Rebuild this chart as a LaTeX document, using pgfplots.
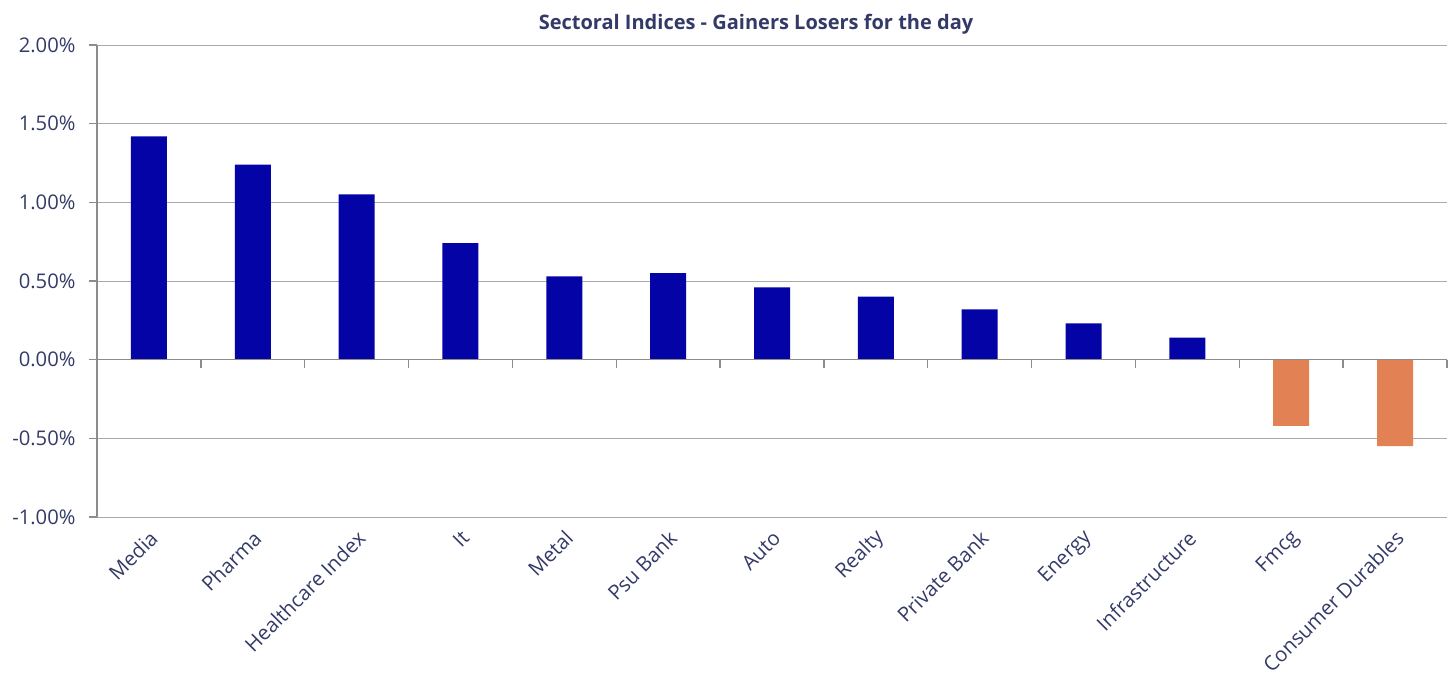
\documentclass[border=0pt]{standalone}
\usepackage{pgfplots}
\pgfplotsset{compat=1.18}
\usepackage{fontspec}
\setmainfont{Open Sans}
\definecolor{barblue}{RGB}{4,4,166}
\definecolor{barorange}{RGB}{226,130,84}
\definecolor{txt}{RGB}{52,58,104}
\definecolor{gridc}{RGB}{170,170,170}
\definecolor{axc}{RGB}{140,140,140}
\begin{document}
\begin{tikzpicture}
\begin{axis}[
  at={(0pt,0pt)}, anchor=south west,
  scale only axis, width=1350pt, height=472pt,
  xmin=-0.5, xmax=12.5, ymin=-1, ymax=2,
  axis x line*=bottom,
  axis y line*=left,
  x axis line style={draw=none},
  major x tick style={draw=none},
  y axis line style={draw=axc, line width=1.6pt},
  xtick={0,1,2,3,4,5,6,7,8,9,10,11,12},
  xticklabels={Media,Pharma,Healthcare Index,It,Metal,Psu Bank,Auto,Realty,Private Bank,Energy,Infrastructure,Fmcg,Consumer Durables},
  xticklabel style={anchor=east, rotate=45, inner sep=0pt, text=txt, font=\fontsize{20.3}{23}\selectfont, xshift=-3.3pt, yshift=-10.3pt},
  ytick={-1,-0.5,0,0.5,1,1.5,2},
  yticklabels={-1.00\%,-0.50\%,0.00\%,0.50\%,1.00\%,1.50\%,2.00\%},
  ymajorgrids,
  major grid style={draw=gridc, line width=1pt},
  major y tick style={draw=axc, line width=1.4pt},
  tick align=outside, major tick length=8pt,
  yticklabel style={font=\fontsize{20.2}{23}\selectfont, text=txt, xshift=-10pt},
  /pgf/number format/assume math mode=true,
  clip=false,
]
\addplot[ybar, bar width=36pt, fill=barblue, draw=none, forget plot]
  coordinates {(0,1.42) (1,1.24) (2,1.05) (3,0.74) (4,0.53) (5,0.55) (6,0.46) (7,0.40) (8,0.32) (9,0.23) (10,0.14)};
\addplot[ybar, bar width=36pt, fill=barorange, draw=none, forget plot]
  coordinates {(11,-0.42) (12,-0.55)};
\draw[axc, line width=1.6pt] (axis cs:-0.5,0) -- (axis cs:12.5,0);
\pgfplotsinvokeforeach{0.5,1.5,2.5,3.5,4.5,5.5,6.5,7.5,8.5,9.5,10.5,11.5,12.5}{
  \draw[axc, line width=1.4pt] (axis cs:#1,0) -- ++(0pt,-8pt);
}
\end{axis}
\node[font=\bfseries\fontsize{20}{23}\selectfont, text=txt] at (659pt,493pt) {Sectoral Indices - Gainers Losers for the day};
\pgfresetboundingbox
\path[use as bounding box] (-97pt,-156pt) rectangle (1356pt,517pt);
\end{tikzpicture}
\end{document}
